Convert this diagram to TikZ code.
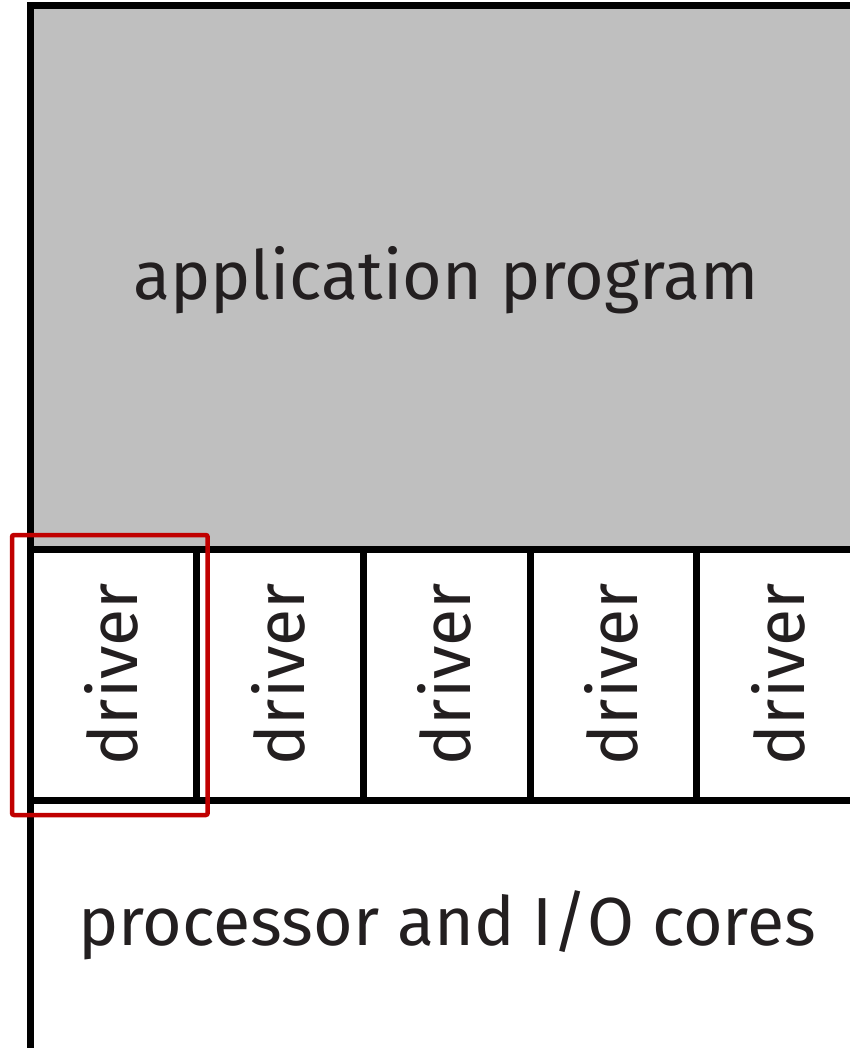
\documentclass[tikz,border=0pt]{standalone}
\usepackage{fontspec}
\setmainfont{Fira Sans}
\definecolor{txt}{HTML}{231F20}
\definecolor{appgray}{HTML}{BFBFBF}
\definecolor{hl}{HTML}{C00000}
\begin{document}
\begin{tikzpicture}[x=1pt,y=-1pt,
  blk/.style={draw=black,line width=7pt,inner sep=0pt,outer sep=0pt,anchor=north west},
  lbl/.style={text=txt,font=\fontsize{68}{80}\selectfont},
  drv/.style={blk,minimum width=166.7pt,minimum height=251pt},
  hlbox/.style={draw=hl,line width=4.5pt,rounded corners=2pt}]
\useasboundingbox (0,0) rectangle (850,1048);
\begin{scope}
\clip (0,0) rectangle (850,1048);
\node[blk,fill=appgray,minimum width=900pt,minimum height=543pt] (app) at (30,6) {};
\node[blk,minimum width=900pt,minimum height=400pt] (cores) at (30,800) {};
\foreach \i in {1,...,5}{
  \node[drv] (d\i) at ({30+(\i-1)*166.7},549) {};
}
\end{scope}
\foreach \i in {1,...,5}{
  \node[lbl,rotate=90] at ([xshift=-2pt]d\i.center) {driver};
}
\node[lbl] (applbl) at (446,280) {application program};
\node[lbl] (corelbl) at (447,925) {processor and I/O cores};
\draw[hlbox] ([xshift=-18pt,yshift=14pt]d1.north west) rectangle ([xshift=11pt,yshift=-15pt]d1.south east);
\end{tikzpicture}
\end{document}
